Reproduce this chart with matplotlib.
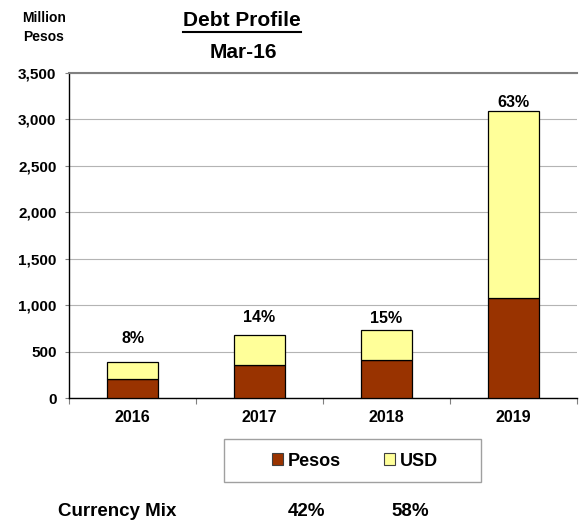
import matplotlib
matplotlib.use("Agg")
import matplotlib.pyplot as plt
from matplotlib.patches import Patch, Rectangle
from matplotlib.lines import Line2D
import numpy as np

plt.rcParams['font.family'] = ['Liberation Sans', 'DejaVu Sans']
plt.rcParams['font.weight'] = 'bold'

# Debt maturities by year, million pesos
years = ["2016", "2017", "2018", "2019"]
pesos = [205, 356, 407, 1077]
usd = [184, 325, 324, 2009]
y_ticks = [0, 500, 1000, 1500, 2000, 2500, 3000, 3500]

PESOS_COLOR = "#993300"
USD_COLOR = "#FFFF99"

W, H = 579, 520
fig = plt.figure(figsize=(W / 100, H / 100), dpi=100)
ax = fig.add_axes([69 / W, 1 - 398 / H, 508 / W, 325 / H])

x = np.arange(len(years))
totals = np.array(pesos) + np.array(usd)
grand = totals.sum()

ax.bar(x, pesos, width=0.4, color=PESOS_COLOR, edgecolor="black", linewidth=0.9, zorder=3)
ax.bar(x, usd, width=0.4, bottom=pesos, color=USD_COLOR, edgecolor="black", linewidth=0.9, zorder=3)

# share of total debt above each bar
offsets = [16.5, 12.5, 8.5, 6.5]
for xi, t, off in zip(x, totals, offsets):
    ax.annotate(f"{t / grand * 100:.0f}%", (xi, t), xytext=(0, off), textcoords="offset points",
                ha="center", va="center", fontsize=11.5, fontweight="bold")

ax.set_xlim(-0.5, len(years) - 0.5)
ax.set_ylim(0, 3500)
ax.set_yticks(y_ticks)
ax.set_yticklabels([f"{v:,}" for v in y_ticks], fontsize=11, fontweight="bold")
ax.set_xticks(x)
ax.set_xticklabels(years, fontsize=11.5, fontweight="bold")
ax.tick_params(axis="x", which="major", length=0, pad=9)
ax.set_xticks(np.arange(-0.5, len(years), 1.0), minor=True)
ax.tick_params(axis="x", which="minor", length=4, width=0.8, color="#808080")
ax.tick_params(axis="y", length=3, width=0.8, color="#808080", pad=6)

ax.grid(axis="y", color="#b4b4b4", linewidth=0.8, zorder=0)
ax.spines["right"].set_visible(False)
ax.spines["top"].set_color("#808080")
ax.spines["top"].set_linewidth(1.5)
for s in ["left", "bottom"]:
    ax.spines[s].set_color("black")
    ax.spines[s].set_linewidth(1.0)

# headings
fig.text(44 / W, 1 - 18 / H, "Million", ha="center", va="center", fontsize=10, fontweight="bold")
fig.text(44 / W, 1 - 37 / H, "Pesos", ha="center", va="center", fontsize=10, fontweight="bold")
title = fig.text(242 / W, 1 - 20 / H, "Debt Profile", ha="center", va="center", fontsize=15, fontweight="bold")
fig.text(243 / W, 1 - 53 / H, "Mar-16", ha="center", va="center", fontsize=15, fontweight="bold")

fig.canvas.draw()
bb = title.get_window_extent().transformed(fig.transFigure.inverted())
fig.add_artist(Line2D([bb.x0, bb.x1], [1 - 31.5 / H, 1 - 31.5 / H], color="black", linewidth=1.5,
                      transform=fig.transFigure))

# legend box
fig.add_artist(Rectangle((224 / W, 1 - 482 / H), 257 / W, 43 / H, transform=fig.transFigure,
                         facecolor="white", edgecolor="#a0a0a0", linewidth=1.0))
handles = [Patch(facecolor=PESOS_COLOR, edgecolor="#404040", linewidth=0.8, label="Pesos"),
           Patch(facecolor=USD_COLOR, edgecolor="#404040", linewidth=0.8, label="USD")]
fig.legend(handles=handles, loc="center", bbox_to_anchor=(355 / W, 1 - 461 / H), ncol=2,
           frameon=False, prop={"weight": "bold", "size": 13},
           handlelength=0.6, handleheight=0.6, handletextpad=0.25, columnspacing=2.4)

# currency mix
peso_share = sum(pesos) / grand * 100
usd_share = sum(usd) / grand * 100
fig.text(117 / W, 1 - 511 / H, "Currency Mix", ha="center", va="center", fontsize=13.5, fontweight="bold")
fig.text(307 / W, 1 - 511 / H, f"{peso_share:.0f}%", ha="center", va="center", fontsize=13.5, fontweight="bold")
fig.text(410 / W, 1 - 511 / H, f"{usd_share:.0f}%", ha="center", va="center", fontsize=13.5, fontweight="bold")

fig.savefig("out.png", dpi=100)
